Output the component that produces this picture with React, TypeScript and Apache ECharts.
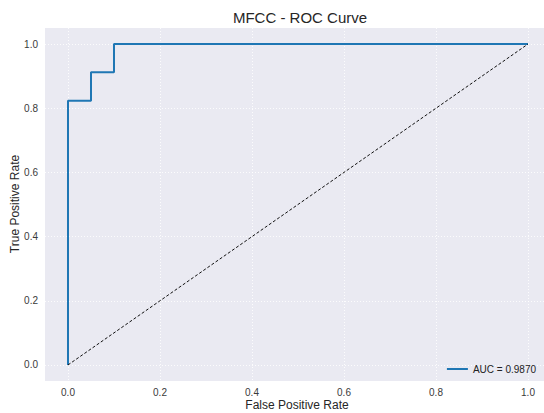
import React, { useEffect, useRef } from "react";
import * as echarts from "echarts";

const tickValues = [0, 0.2, 0.4, 0.6, 0.8, 1.0];
const rocFpr = [0, 0, 0.05, 0.05, 0.1, 0.1, 1.0];
const rocTpr = [0, 0.8235, 0.8235, 0.9118, 0.9118, 1.0, 1.0];
const diagX = [0, 1];
const diagY = [0, 1];
const legendLabel = "AUC = 0.9870";
const titleText = "MFCC - ROC Curve";
const xName = "False Positive Rate";
const yName = "True Positive Rate";

export default function App() {
  const ref = useRef<HTMLDivElement>(null);
  useEffect(() => {
    if (!ref.current) return;
    const chart = echarts.init(ref.current, undefined, { renderer: "svg" });
    const font = "'Liberation Sans', Arial, sans-serif";
    const fmt = (v: number) => v.toFixed(1);
    chart.setOption({
      animation: false,
      backgroundColor: "#ffffff",
      textStyle: { fontFamily: font },
      grid: {
        left: 45,
        top: 28,
        right: 0,
        bottom: 32,
        show: true,
        backgroundColor: "#EAEAF2",
        borderWidth: 0,
      },
      xAxis: {
        type: "value",
        min: -0.05,
        max: 1.0348,
        axisLine: { show: false },
        axisTick: { show: false, customValues: tickValues },
        axisLabel: {
          customValues: tickValues,
          formatter: fmt,
          color: "#3a3a3a",
          fontSize: 10,
          margin: 6,
          fontFamily: font,
        },
        splitLine: {
          show: true,
          lineStyle: { color: "rgba(255,255,255,0.85)", type: [1, 2], width: 1 },
        },
      },
      yAxis: {
        type: "value",
        min: -0.05,
        max: 1.05,
        axisLine: { show: false },
        axisTick: { show: false, customValues: tickValues },
        axisLabel: {
          customValues: tickValues,
          formatter: fmt,
          color: "#3a3a3a",
          fontSize: 10,
          margin: 7,
          fontFamily: font,
        },
        splitLine: {
          show: true,
          lineStyle: { color: "rgba(255,255,255,0.85)", type: [1, 2], width: 1 },
        },
      },
      legend: {
        data: [{ name: legendLabel, icon: "rect" }],
        right: 3,
        top: 359,
        itemWidth: 21,
        itemHeight: 2,
        itemGap: 6,
        textStyle: { fontSize: 10, color: "#222", fontFamily: font },
      },
      graphic: [
        {
          type: "text",
          x: 300,
          y: 17,
          style: {
            text: titleText,
            fontSize: 15,
            fill: "#262626",
            fontFamily: font,
            align: "center",
            verticalAlign: "middle",
          },
        },
        {
          type: "text",
          x: 297,
          y: 405,
          style: {
            text: xName,
            fontSize: 12,
            fill: "#262626",
            fontFamily: font,
            align: "center",
            verticalAlign: "middle",
          },
        },
        {
          type: "text",
          x: 15,
          y: 204,
          rotation: Math.PI / 2,
          style: {
            text: yName,
            fontSize: 12,
            fill: "#262626",
            fontFamily: font,
            align: "center",
            verticalAlign: "middle",
          },
        },
      ],
      series: [
        {
          name: legendLabel,
          type: "line",
          data: rocFpr.map((x, i) => [x, rocTpr[i]]),
          symbol: "none",
          lineStyle: { color: "#1f77b4", width: 2 },
          itemStyle: { color: "#1f77b4" },
          clip: false,
          z: 3,
        },
        {
          name: "diag",
          type: "line",
          data: diagX.map((x, i) => [x, diagY[i]]),
          symbol: "none",
          lineStyle: { color: "#111111", width: 1, type: [3, 2] },
          itemStyle: { color: "#111111" },
          z: 4,
        },
      ],
    });
    return () => chart.dispose();
  }, []);
  return (
    <div
      ref={ref}
      style={{ position: "fixed", left: 0, top: 0, width: 544, height: 413 }}
    />
  );
}
